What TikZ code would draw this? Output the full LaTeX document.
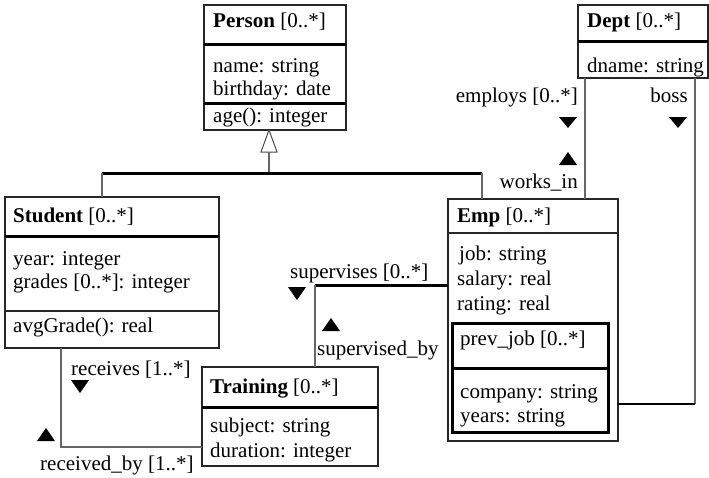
\documentclass[tikz,border=0pt]{standalone}
\usepackage{fontspec}
\setmainfont{Liberation Serif}
\begin{document}
\begin{tikzpicture}[x=1pt,y=-1pt,
  font=\fontsize{21}{23}\selectfont,
  box/.style={draw=black!85, line width=1.2pt, inner sep=0pt, outer sep=0pt, anchor=north west},
  innerbox/.style={draw=black, line width=3pt, inner sep=0pt, outer sep=0pt, anchor=north west},
  thicksep/.style={draw=black, line width=3pt},
  thinsep/.style={draw=black!85, line width=1.2pt},
  conn/.style={draw=black!60, line width=1.2pt},
  bar/.style={draw=black, line width=3pt},
  txt/.style={inner sep=0pt, anchor=base west},
  rtxt/.style={inner sep=0pt, anchor=base east},
  dtri/.style={fill=black},
]
\useasboundingbox (0,0) rectangle (709,477);

% ---------- class boxes ----------
\node[box, minimum width=142pt, minimum height=125pt] (person) at (204,5) {};
\node[box, minimum width=130pt, minimum height=73pt] (dept) at (578,5) {};
\node[box, minimum width=214pt, minimum height=151pt] (student) at (5,197) {};
\node[box, minimum width=170pt, minimum height=242pt] (emp) at (448,199) {};
\node[innerbox, minimum width=156pt, minimum height=109pt] (prevjob) at (452,323) {};
\node[box, minimum width=176pt, minimum height=99pt] (training) at (202,367) {};

% compartment separators
\draw[thicksep] (person.west |- 0,44) -- (person.east |- 0,44);
\draw[thicksep] (person.west |- 0,103) -- (person.east |- 0,103);
\draw[thicksep] (dept.west |- 0,41) -- (dept.east |- 0,41);
\draw[thicksep] (student.west |- 0,236) -- (student.east |- 0,236);
\draw[thinsep] (student.west |- 0,311) -- (student.east |- 0,311);
\draw[thinsep] (emp.west |- 0,233) -- (emp.east |- 0,233);
\draw[thicksep] (prevjob.west |- 0,368) -- (prevjob.east |- 0,368);
\draw[thicksep] (training.west |- 0,407) -- (training.east |- 0,407);

% ---------- class texts ----------
\node[txt] (tperson) at (213,27) {\textbf{Person} [0..*]};
\node[txt] (tname) at (213,72) {name: string};
\node[txt] (tbirth) at (213,95) {birthday: date};
\node[txt] (tage) at (213,122) {age(): integer};

\node[txt] (tdept) at (587,27) {\textbf{Dept} [0..*]};
\node[txt] (tdname) at (587,72) {dname: string};

\node[txt] (tstudent) at (13,222) {\textbf{Student} [0..*]};
\node[txt] (tyear) at (13,265) {year: integer};
\node[txt] (tgrades) at (13,288) {grades [0..*]: integer};
\node[txt] (tavg) at (13,332) {avgGrade(): real};

\node[txt] (temp) at (457,222) {\textbf{Emp} [0..*]};
\node[txt] (tjob) at (459,260) {job: string};
\node[txt] (tsalary) at (457,285) {salary: real};
\node[txt] (trating) at (457,310) {rating: real};
\node[txt] (tprev) at (460,345) {prev\_job [0..*]};
\node[txt] (tcompany) at (460,398) {company: string};
\node[txt] (tyears) at (460,422) {years: string};

\node[txt] (ttraining) at (210,393) {\textbf{Training} [0..*]};
\node[txt] (tsubject) at (210,432) {subject: string};
\node[txt] (tduration) at (210,457) {duration: integer};

% ---------- generalization ----------
\coordinate (gentip) at (269,130);
\coordinate (genbase) at (269,152);
\coordinate (genmid) at (269,173);
\coordinate (genleft) at (102,173);
\coordinate (genright) at (482,173);
\draw[black!70, line width=1pt, fill=white] (gentip) -- (261,152) -- (277,152) -- cycle;
\draw[conn] (genbase) -- (genmid);
\draw[bar] (genleft) -- (genright);
\draw[conn] (genleft) -- (genleft |- student.north);
\draw[conn] (genright) -- (genright |- emp.north);

% ---------- employs / works_in ----------
\coordinate (empl) at (585,0);
\draw[conn] (empl |- dept.south) -- (empl |- emp.north);
\node[rtxt] (lemploys) at (578,102) {employs [0..*]};
\node[rtxt] (lworks) at (578,188) {works\_in};
\fill[dtri] (568,128) -- (559,117) -- (577,117) -- cycle;
\fill[dtri] (568,152) -- (559,165) -- (577,165) -- cycle;

% ---------- boss ----------
\coordinate (bossx) at (695,0);
\coordinate (bosscorner) at (695,404);
\draw[conn] (bossx |- dept.south) -- (bosscorner);
\draw[draw=black, line width=2.2pt] (bosscorner) -- (bosscorner -| emp.east);
\node[rtxt] (lboss) at (688,102) {boss};
\fill[dtri] (678,128) -- (669,117) -- (687,117) -- cycle;

% ---------- supervises / supervised_by ----------
\coordinate (supcorner) at (315,285);
\draw[bar] (emp.west |- supcorner) -- (supcorner);
\draw[conn] (supcorner) -- (supcorner |- training.north);
\node[txt] (lsup) at (290,278) {supervises [0..*]};
\node[txt] (lsupby) at (317,355) {supervised\_by};
\fill[dtri] (297,300) -- (288,287) -- (306,287) -- cycle;
\fill[dtri] (331,318) -- (322,331) -- (340,331) -- cycle;

% ---------- receives / received_by ----------
\coordinate (reccorner) at (61,447);
\draw[conn] (reccorner |- student.south) -- (reccorner) -- (reccorner -| training.west);
\node[txt] (lrec) at (71,375) {receives [1..*]};
\node[txt] (lrecby) at (40,470) {received\_by [1..*]};
\fill[dtri] (80,393) -- (71,380) -- (89,380) -- cycle;
\fill[dtri] (46,428) -- (37,441) -- (55,441) -- cycle;
\end{tikzpicture}
\end{document}
